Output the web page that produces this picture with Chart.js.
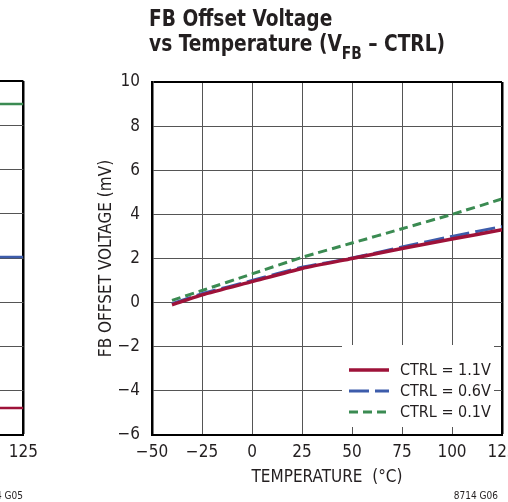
<!DOCTYPE html>
<html>
<head>
<meta charset="utf-8">
<script src="https://cdn.jsdelivr.net/npm/chart.js@4/dist/chart.umd.min.js"></script>
<style>
html, body { margin: 0; padding: 0; background: #fff; overflow: hidden; }
#wrap { position: relative; width: 508px; height: 502px; overflow: hidden; }
canvas { position: absolute; top: 0; }
#main { left: 0; }
#prev { left: -355px; }
.txt { position: absolute; font-family: "DejaVu Sans Condensed", "Liberation Sans", sans-serif; color: #231f20; white-space: nowrap; }
#title { left: 149px; top: 6px; font-weight: bold; font-size: 23px; line-height: 25px; transform: scaleX(0.9); transform-origin: left top; }
#title .sub { font-size: 17px; position: relative; top: 8px; }
.code { font-size: 10px; top: 490px; }
</style>
</head>
<body>
<div id="wrap">
	<canvas id="prev" width="400" height="502"></canvas>
	<canvas id="main" width="560" height="502"></canvas>
	<div id="title" class="txt">FB Offset Voltage<br>vs Temperature (V<span class="sub">FB</span> – CTRL)</div>
	<div class="txt code" style="right: 485px;">8714 G05</div>
	<div class="txt code" style="right: 10px;">8714 G06</div>
</div>
<script>
const FONT = '"DejaVu Sans Condensed", "Liberation Sans", sans-serif';
const INK = '#231f20';
const GRID = '#555';

// --- data: FB offset vs temperature ---
const temps = [-40, -25, 0, 25, 50, 75, 100, 125];
const ctrl11 = [-0.1, 0.35, 0.95, 1.55, 2.0, 2.45, 2.88, 3.3];
const ctrl06 = [-0.05, 0.4, 1.0, 1.6, 2.02, 2.52, 3.0, 3.45];
const ctrl01 = [0.1, 0.55, 1.3, 2.05, 2.7, 3.35, 4.0, 4.7];
const seriesLabels = ['CTRL = 1.1V', 'CTRL = 0.6V', 'CTRL = 0.1V'];

// --- data: right edge of the previous graph (G05) ---
const prevTemps = [-40, 125];
const prevTop = [7.48, 7.48];
const prevMid = [4.02, 4.02];
const prevLow = [0.61, 0.61];

const RED = '#9e1239';
const BLUE = '#3d5cab';
const GREEN = '#3b8b52';
const styles = [
	{ color: RED, width: 3.5, dash: [] },
	{ color: BLUE, width: 3, dash: [20, 6] },
	{ color: GREEN, width: 3, dash: [9, 5] },
];

const minus = (v) => String(v).replace('-', '\u2212');
const pts = (xs, ys) => xs.map((x, i) => ({ x, y: ys[i] }));

function lineSet(label, data, s) {
	return {
		label, data,
		borderColor: s.color,
		borderWidth: s.width,
		borderDash: s.dash,
		pointRadius: 0,
		tension: 0.2,
		fill: false,
	};
}

function xScale(showTitle) {
	return {
		type: 'linear', min: -50, max: 125,
		afterFit: (s) => { s.height = 67; },
		ticks: { stepSize: 25, padding: 7, color: INK, font: { family: FONT, size: 17 }, callback: minus },
		grid: {
			drawTicks: false,
			color: (c) => (c.tick && c.tick.value === 125 ? '#000' : GRID),
			lineWidth: (c) => (c.tick && c.tick.value === 125 ? 2.5 : 1),
		},
		border: { color: '#000', width: 2 },
		title: {
			display: showTitle, text: 'TEMPERATURE  (°C)', color: INK,
			font: { family: FONT, size: 17 }, padding: { top: 0, bottom: 14 },
		},
	};
}

const legendBox = {
	id: 'legendBox',
	afterDraw(chart) {
		const c = chart.ctx;
		c.save();
		c.fillStyle = '#fff';
		c.fillRect(342, 345, 152, 82);
		c.font = '16px ' + FONT;
		c.fillStyle = INK;
		c.textBaseline = 'middle';
		seriesLabels.forEach((lab, i) => {
			const y = 370 + i * 21;
			const s = styles[i];
			c.beginPath();
			c.strokeStyle = s.color;
			c.lineWidth = s.width;
			c.setLineDash(s.dash);
			c.moveTo(349, y);
			c.lineTo(389, y);
			c.stroke();
			c.fillText(lab, 400, y + 1);
		});
		c.restore();
	},
};

new Chart(document.getElementById('main'), {
	type: 'line',
	data: {
		datasets: [
			lineSet(seriesLabels[0], pts(temps, ctrl11), styles[0]),
			lineSet(seriesLabels[1], pts(temps, ctrl06), styles[1]),
			lineSet(seriesLabels[2], pts(temps, ctrl01), styles[2]),
		],
	},
	options: {
		responsive: false,
		animation: false,
		layout: { padding: { left: 96, top: 82, right: 58, bottom: 0 } },
		plugins: { legend: { display: false }, tooltip: { enabled: false } },
		scales: {
			x: xScale(true),
			y: {
				type: 'linear', min: -6, max: 10,
				afterFit: (s) => { s.width = 56; },
				ticks: { stepSize: 2, padding: 12, color: INK, font: { family: FONT, size: 17 }, callback: minus },
				grid: {
					drawTicks: false,
					color: (c) => (c.tick && c.tick.value === 10 ? '#000' : GRID),
					lineWidth: (c) => (c.tick && c.tick.value === 10 ? 2 : 1),
				},
				border: { color: '#000', width: 2.5 },
				title: {
					display: true, text: 'FB OFFSET VOLTAGE (mV)', color: INK,
					font: { family: FONT, size: 17 }, padding: 0,
				},
			},
		},
	},
	plugins: [legendBox],
});

new Chart(document.getElementById('prev'), {
	type: 'line',
	data: {
		datasets: [
			lineSet('top', pts(prevTemps, prevTop), { color: GREEN, width: 2.5, dash: [] }),
			lineSet('mid', pts(prevTemps, prevMid), { color: BLUE, width: 2.5, dash: [] }),
			lineSet('low', pts(prevTemps, prevLow), { color: RED, width: 2.5, dash: [] }),
		],
	},
	options: {
		responsive: false,
		animation: false,
		layout: { padding: { left: 33, top: 81, right: 17, bottom: 0 } },
		plugins: { legend: { display: false }, tooltip: { enabled: false } },
		scales: {
			x: xScale(false),
			y: {
				type: 'linear', min: 0, max: 8,
				afterFit: (s) => { s.width = 0; },
				ticks: { stepSize: 1, display: false },
				grid: {
					drawTicks: false,
					color: (c) => (c.tick && c.tick.value === 8 ? '#000' : GRID),
					lineWidth: (c) => (c.tick && c.tick.value === 8 ? 2 : 1),
				},
				border: { color: '#000', width: 2 },
			},
		},
	},
});
</script>
</body>
</html>
